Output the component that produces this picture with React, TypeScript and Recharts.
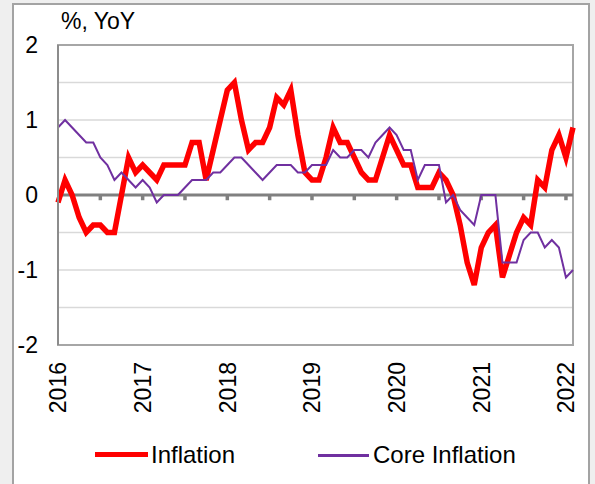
import { LineChart, Line, XAxis, YAxis, CartesianGrid, ReferenceLine, ReferenceArea } from 'recharts';

const FONT = '"Liberation Sans", Arial, sans-serif';

// monthly, Jan 2016 .. Feb 2022
const inflation = [
  -0.1, 0.2, 0.0, -0.3, -0.5, -0.4, -0.4, -0.5, -0.5, 0.0, 0.5, 0.3,
  0.4, 0.3, 0.2, 0.4, 0.4, 0.4, 0.4, 0.7, 0.7, 0.2, 0.6, 1.0,
  1.4, 1.5, 1.0, 0.6, 0.7, 0.7, 0.9, 1.3, 1.2, 1.4, 0.8, 0.3,
  0.2, 0.2, 0.5, 0.9, 0.7, 0.7, 0.5, 0.3, 0.2, 0.2, 0.5, 0.8,
  0.6, 0.4, 0.4, 0.1, 0.1, 0.1, 0.3, 0.2, 0.0, -0.4, -0.9, -1.2,
  -0.7, -0.5, -0.4, -1.1, -0.8, -0.5, -0.3, -0.4, 0.2, 0.1, 0.6, 0.8,
  0.5, 0.9,
];

const coreInflation = [
  0.9, 1.0, 0.9, 0.8, 0.7, 0.7, 0.5, 0.4, 0.2, 0.3, 0.2, 0.1,
  0.2, 0.1, -0.1, 0.0, 0.0, 0.0, 0.1, 0.2, 0.2, 0.2, 0.3, 0.3,
  0.4, 0.5, 0.5, 0.4, 0.3, 0.2, 0.3, 0.4, 0.4, 0.4, 0.3, 0.3,
  0.4, 0.4, 0.4, 0.6, 0.5, 0.5, 0.6, 0.6, 0.5, 0.7, 0.8, 0.9,
  0.8, 0.6, 0.6, 0.2, 0.4, 0.4, 0.4, -0.1, 0.0, -0.2, -0.3, -0.4,
  0.0, 0.0, 0.0, -0.9, -0.9, -0.9, -0.6, -0.5, -0.5, -0.7, -0.6, -0.7,
  -1.1, -1.0,
];

const yearLabels = ['2016', '2017', '2018', '2019', '2020', '2021', '2022'];
const yearTicks = [0, 12, 24, 36, 48, 60, 72];
const halfYearTicks = [6, 12, 18, 24, 30, 36, 42, 48, 54, 60, 66, 72];
const yTicks = [-2, -1.5, -1, -0.5, 0, 0.5, 1, 1.5, 2];

const data = inflation.map((v, i) => ({ m: i, inflation: v, core: coreInflation[i] }));

function YearTick({ x, y, payload }: any) {
  const idx = yearTicks.indexOf(payload.value);
  return (
    <text
      x={x}
      y={y}
      dy="0.36em"
      transform={`rotate(-90, ${x}, ${y})`}
      textAnchor="end"
      fill="#000"
      fontSize={23}
      fontFamily={FONT}
    >
      {yearLabels[idx]}
    </text>
  );
}

export default function App() {
  return (
    <div style={{ position: 'absolute', left: 0, top: 0, width: 595, height: 484, background: '#efefef', overflow: 'hidden', fontFamily: FONT }}>
      <div style={{ position: 'absolute', left: 12, top: 3, width: 574, height: 490, background: '#fff', border: '2px solid #a3a3a3' }} />
      <div style={{ position: 'absolute', left: 61, top: 8, fontSize: 23, color: '#000' }}>%, YoY</div>
      <div style={{ position: 'absolute', left: 0, top: 0 }}>
        <LineChart width={595} height={484} data={data} margin={{ top: 45, right: 22, bottom: 0, left: 0 }}>
          <CartesianGrid horizontal vertical={false} stroke="#d9d9d9" strokeWidth={1.5} />
          <ReferenceArea x1={0} x2={73} y1={-2} y2={2} fill="none" stroke="#a6a6a6" strokeWidth={2} />
          <XAxis
            type="number"
            dataKey="m"
            domain={[0, 73]}
            ticks={yearTicks}
            tick={<YearTick />}
            axisLine={false}
            tickLine={false}
            tickMargin={11}
            height={139}
            interval={0}
          />
          <YAxis
            type="number"
            domain={[-2, 2]}
            ticks={yTicks}
            interval={0}
            width={58}
            tickFormatter={(v: number) => (Number.isInteger(v) ? String(v) : '')}
            tick={{ fill: '#000', fontSize: 23, fontFamily: FONT }}
            axisLine={{ stroke: '#8c8c8c', strokeWidth: 2 }}
            tickLine={false}
            tickMargin={14}
          />
          <ReferenceLine y={0} stroke="#808080" strokeWidth={3} />
          {halfYearTicks.map((t) => (
            <ReferenceLine
              key={t}
              segment={[{ x: t, y: 0 }, { x: t, y: -0.07 }]}
              stroke="#808080"
              strokeWidth={3.5}
            />
          ))}
          <Line type="linear" dataKey="inflation" stroke="#ff0000" strokeWidth={5.5} dot={false} isAnimationActive={false} />
          <Line type="linear" dataKey="core" stroke="#7030a0" strokeWidth={2} dot={false} isAnimationActive={false} />
        </LineChart>
      </div>
      <div style={{ position: 'absolute', left: 95, top: 452, width: 53, height: 5, background: '#ff0000' }} />
      <div style={{ position: 'absolute', left: 151, top: 441, fontSize: 24, lineHeight: '28px', color: '#000' }}>Inflation</div>
      <div style={{ position: 'absolute', left: 318, top: 454, width: 51, height: 2.5, background: '#7030a0' }} />
      <div style={{ position: 'absolute', left: 373, top: 441, fontSize: 24, lineHeight: '28px', color: '#000' }}>Core Inflation</div>
    </div>
  );
}
